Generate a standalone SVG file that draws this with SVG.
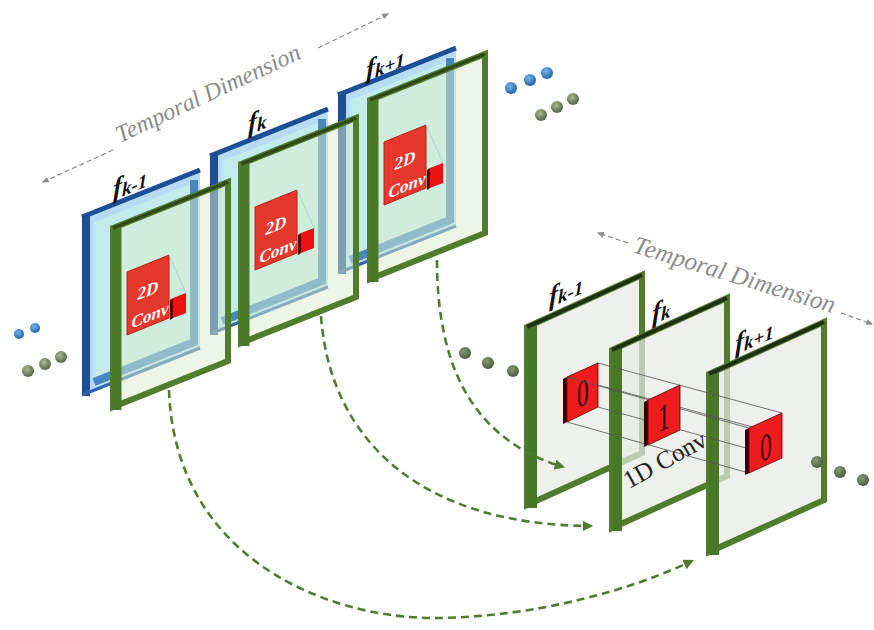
<svg xmlns="http://www.w3.org/2000/svg" xmlns:xlink="http://www.w3.org/1999/xlink" width="874" height="630" viewBox="0 0 874 630">
<style>
.lbl{font-family:"Liberation Serif",serif;font-style:italic;font-weight:bold;fill:#111}
.tdim{font-family:"Liberation Serif",serif;font-style:italic;fill:#8c8c8c}
.tdl{stroke:#8c8c8c;stroke-width:1.2;stroke-dasharray:5 3;fill:none}
.conv2d{font-family:"Liberation Serif",serif;font-style:italic;font-weight:bold;fill:#fff;font-size:17px;text-anchor:middle}
.digit{font-family:"Liberation Serif",serif;fill:#3a0000;font-size:38px;text-anchor:middle}
.arc{fill:none;stroke:#4f7d30;stroke-width:2.6;stroke-dasharray:8 5}
.rf{fill:#e8eae5;fill-opacity:0.72;stroke:#4f7d2c;stroke-width:6;stroke-linejoin:miter}
.gf{fill:#dcf0cf;fill-opacity:0.5;stroke:#4f7d2c;stroke-width:6}
.prism{stroke:#555;stroke-width:0.8;fill:none}
</style>
<defs>
<radialGradient id="gb" cx="0.4" cy="0.35" r="0.7"><stop offset="0" stop-color="#6fb6ee"/><stop offset="1" stop-color="#1f5fa0"/></radialGradient>
<radialGradient id="gg" cx="0.4" cy="0.35" r="0.7"><stop offset="0" stop-color="#a9b890"/><stop offset="1" stop-color="#4f6240"/></radialGradient>
<radialGradient id="gd" cx="0.4" cy="0.35" r="0.7"><stop offset="0" stop-color="#8a9a78"/><stop offset="1" stop-color="#455a38"/></radialGradient>
<marker id="ag" viewBox="0 0 10 10" refX="8" refY="5" markerWidth="4" markerHeight="4" orient="auto-start-reverse"><path d="M0,0 L10,5 L0,10 z" fill="#4f7d30"/></marker>
<marker id="ay" viewBox="0 0 10 10" refX="8" refY="5" markerWidth="6" markerHeight="6" orient="auto-start-reverse"><path d="M0,1 L10,5 L0,9 z" fill="#8c8c8c"/></marker>
<g id="blueSlab">
<polygon points="82,217 200,170 200,348 82,395" fill="#b6dcf3"/>
<polygon points="94,222 190,184 190,340 94,378" fill="#c3ebeb"/>
<polyline points="194,180 194,342 94,382" fill="none" stroke="#4a86be" stroke-width="8"/>
<line x1="86" y1="216" x2="86" y2="396" stroke="#1d4e98" stroke-width="8"/>
<line x1="82" y1="217" x2="200" y2="170" stroke="#1d4e98" stroke-width="5"/>
<line x1="82" y1="395" x2="200" y2="348" stroke="#2f64ad" stroke-width="3"/>
</g>
<g id="greenFrame">
<polygon class="gf" points="113,228 228,182 228,361 113,407"/>
<line x1="117" y1="226" x2="117" y2="410" stroke="#4a7a28" stroke-width="9"/>
<line x1="113" y1="228" x2="228" y2="182" stroke="#2d4a18" stroke-width="3.5"/>
</g>
<g id="conv">
<polygon points="127,272 169,255 169,318 127,335" fill="#e4382c" stroke="#b82016" stroke-width="1"/>
<line x1="169" y1="255" x2="186" y2="293" stroke="#9fd0d0" stroke-width="0.8"/>
<g transform="translate(148,296) skewY(-22)"><text class="conv2d" x="0" y="0">2D</text></g>
<g transform="translate(150,321) skewY(-22)"><text class="conv2d" x="0" y="0">Conv</text></g>
<polygon points="170,300 173,298 173,318 170,320" fill="#5a0000"/>
<polygon points="173,298 186,293 186,313 173,318" fill="#ee1111"/>
</g>
<g id="rframe">
<polygon class="rf" points="527,327 642,275 642,453 527,505"/>
<line x1="532" y1="325" x2="532" y2="508" stroke="#467826" stroke-width="10"/>
<line x1="527" y1="327" x2="642" y2="275" stroke="#1f2e14" stroke-width="4"/>
</g>
</defs>
<rect x="0" y="0" width="874" height="630" fill="#fff"/>

<g id="temporal-left">
<line class="tdl" x1="113" y1="150" x2="43" y2="182" marker-end="url(#ay)"/>
<text class="tdim" font-size="24" transform="translate(120,143) rotate(-25)">Temporal Dimension</text>
<line class="tdl" x1="318" y1="48" x2="388" y2="14" marker-end="url(#ay)"/>
</g>

<g id="left-fk1">
<use xlink:href="#blueSlab" transform="translate(256,-122)"/>
<use xlink:href="#greenFrame" transform="translate(257,-128)"/>
<use xlink:href="#conv" transform="translate(257,-130)"/>
<g transform="translate(366,79) skewY(-22)"><text class="lbl" font-size="27">f<tspan font-size="19" dy="2">k+1</tspan></text></g>
</g>
<g id="left-fk">
<use xlink:href="#blueSlab" transform="translate(128,-61)"/>
<use xlink:href="#greenFrame" transform="translate(128,-64)"/>
<use xlink:href="#conv" transform="translate(128,-65)"/>
<g transform="translate(248,133) skewY(-22)"><text class="lbl" font-size="27">f<tspan font-size="19" dy="2">k</tspan></text></g>
</g>
<g id="left-fkm1">
<use xlink:href="#blueSlab"/>
<use xlink:href="#greenFrame"/>
<use xlink:href="#conv"/>
<g transform="translate(113,198) skewY(-22)"><text class="lbl" font-size="27">f<tspan font-size="19" dy="2">k-1</tspan></text></g>
</g>

<g id="dots-left">
<circle cx="19" cy="334" r="5" fill="url(#gb)"/>
<circle cx="35" cy="328" r="5" fill="url(#gb)"/>
<circle cx="28" cy="371" r="6" fill="url(#gg)"/>
<circle cx="45" cy="364" r="6" fill="url(#gg)"/>
<circle cx="61" cy="357" r="6" fill="url(#gg)"/>
</g>
<g id="dots-top">
<circle cx="511" cy="88" r="6" fill="url(#gb)"/>
<circle cx="530" cy="80" r="6" fill="url(#gb)"/>
<circle cx="547" cy="73" r="6" fill="url(#gb)"/>
<circle cx="541" cy="115" r="6" fill="url(#gg)"/>
<circle cx="557" cy="107" r="6" fill="url(#gg)"/>
<circle cx="573" cy="99" r="6" fill="url(#gg)"/>
</g>

<g id="temporal-right">
<line class="tdl" x1="628" y1="243" x2="598" y2="233" marker-end="url(#ay)"/>
<text class="tdim" font-size="25" transform="translate(632,252) rotate(17)">Temporal Dimension</text>
<line class="tdl" x1="841" y1="313" x2="872" y2="324" marker-end="url(#ay)"/>
</g>

<g id="right-fkm1">
<use xlink:href="#rframe"/>
<polygon points="563,379 567,377 567,422 563,424" fill="#3a0000"/>
<polygon points="567,377 598,363 598,407 567,422" fill="#ee1c1c" stroke="#600" stroke-width="0.8"/>
<g transform="translate(583,406) skewY(-24) scale(0.62,1)"><text class="digit">0</text></g>
<g transform="translate(549,306) skewY(-24)"><text class="lbl" font-size="27">f<tspan font-size="19" dy="2">k-1</tspan></text></g>
</g>
<g id="right-fk">
<use xlink:href="#rframe" transform="translate(85,23)"/>
<g transform="translate(652,323) skewY(-24)"><text class="lbl" font-size="27">f<tspan font-size="19" dy="2">k</tspan></text></g>
</g>
<g id="right-fk1">
<use xlink:href="#rframe" transform="translate(182,47)"/>
<g transform="translate(735,353) skewY(-24)"><text class="lbl" font-size="27">f<tspan font-size="19" dy="2">k+1</tspan></text></g>
</g>

<g id="conv1d">
<line class="prism" x1="567" y1="377" x2="749" y2="428"/>
<line class="prism" x1="598" y1="363" x2="782" y2="413"/>
<line class="prism" x1="598" y1="385" x2="782" y2="435"/>
<line class="prism" x1="598" y1="407" x2="782" y2="458"/>
<line class="prism" x1="567" y1="422" x2="749" y2="473"/>
<polygon points="644,402 648,400 648,445 644,447" fill="#3a0000"/>
<polygon points="648,400 680,385 680,430 648,445" fill="#ee1c1c" stroke="#600" stroke-width="0.8"/>
<g transform="translate(664,430) skewY(-24) scale(0.62,1)"><text class="digit">1</text></g>
<polygon points="745,430 749,428 749,473 745,475" fill="#3a0000"/>
<polygon points="749,428 782,413 782,458 749,473" fill="#ee1c1c" stroke="#600" stroke-width="0.8"/>
<g transform="translate(766,460) skewY(-24) scale(0.62,1)"><text class="digit">0</text></g>
<text font-family="Liberation Serif,serif" font-size="25" fill="#222" transform="translate(629,489) rotate(-29)">1D Conv</text>
</g>

<g id="dots-right">
<circle cx="465" cy="353" r="6" fill="url(#gd)"/>
<circle cx="488" cy="363" r="6" fill="url(#gd)"/>
<circle cx="513" cy="371" r="6" fill="url(#gd)"/>
<circle cx="817" cy="462" r="6" fill="url(#gd)"/>
<circle cx="840" cy="472" r="6" fill="url(#gd)"/>
<circle cx="863" cy="480" r="6" fill="url(#gd)"/>
</g>

<g id="connectors">
<path class="arc" d="M437,260 C437,370 475,440 563,467" marker-end="url(#ag)"/>
<path class="arc" d="M321,316 C330,440 420,525 591,526" marker-end="url(#ag)"/>
<path class="arc" d="M169,390 C175,560 330,620 440,618 C540,616 630,590 692,561" marker-end="url(#ag)"/>
</g>
</svg>
